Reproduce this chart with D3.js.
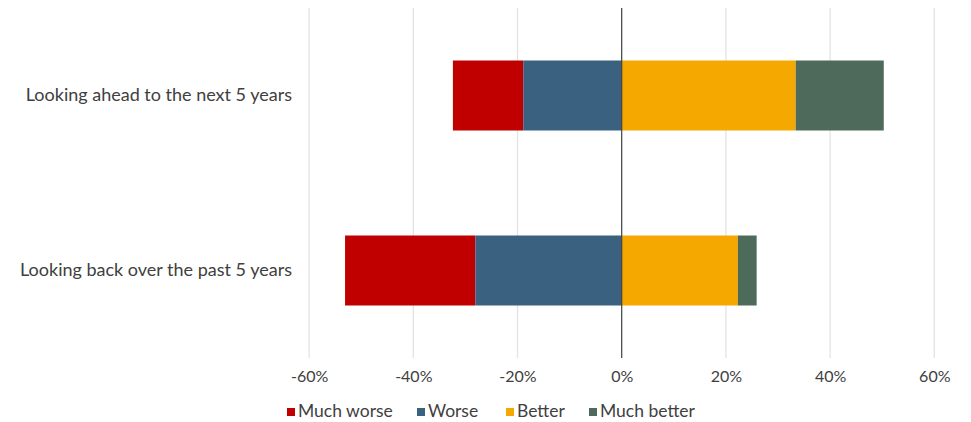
<!DOCTYPE html>
<html>
<head>
<meta charset="utf-8">
<script src="https://cdn.jsdelivr.net/npm/d3@7"></script>
<style>
  html, body { margin: 0; padding: 0; background: #fff; }
  svg { display: block; font-family: Lato, "Open Sans", sans-serif; }
</style>
</head>
<body>
<svg id="chart" width="971" height="422"></svg>
<script>
const categories = ["Looking ahead to the next 5 years", "Looking back over the past 5 years"];
const seriesNames = ["Much worse", "Worse", "Better", "Much better"];
const muchWorse = [13.5, 25.0];
const worse = [18.9, 28.1];
const better = [33.4, 22.3];
const muchBetter = [16.9, 3.6];
const tickValues = [-60, -40, -20, 0, 20, 40, 60];
const colors = ["#C00000", "#3A6180", "#F5A800", "#4D6A5A"];

const svg = d3.select("#chart");
const x = d3.scaleLinear().domain([-60, 60]).range([309.1, 934.3]);
const y = d3.scaleBand().domain(categories).range([8, 358]).paddingInner(0.6).paddingOuter(0.3);

// gridlines
svg.append("g").selectAll("line").data(tickValues.filter(d => d !== 0)).join("line")
  .attr("x1", d => x(d)).attr("x2", d => x(d))
  .attr("y1", 8).attr("y2", 358)
  .attr("stroke", "#e3e3e3").attr("stroke-width", 1.3);

// stacked bars
const rows = categories.map((c, i) => ({ cat: c, vals: [muchWorse[i], worse[i], better[i], muchBetter[i]] }));
const segs = [];
rows.forEach(r => {
  const mw = r.vals[0], w = r.vals[1], b = r.vals[2], mb = r.vals[3];
  segs.push({ cat: r.cat, s: 0, x0: -(w + mw), x1: -w });
  segs.push({ cat: r.cat, s: 1, x0: -w, x1: 0 });
  segs.push({ cat: r.cat, s: 2, x0: 0, x1: b });
  segs.push({ cat: r.cat, s: 3, x0: b, x1: b + mb });
});
svg.append("g").selectAll("rect").data(segs).join("rect")
  .attr("x", d => x(d.x0)).attr("width", d => x(d.x1) - x(d.x0))
  .attr("y", d => y(d.cat)).attr("height", y.bandwidth())
  .attr("fill", d => colors[d.s]);

// zero line
svg.append("line").attr("x1", x(0)).attr("x2", x(0)).attr("y1", 8).attr("y2", 358)
  .attr("stroke", "#404040").attr("stroke-width", 1.2);

// x axis labels
const xAxis = d3.axisBottom(x).tickValues(tickValues).tickFormat(d => d + "%").tickSize(0).tickPadding(0);
const ax = svg.append("g").attr("transform", "translate(0,371)").call(xAxis);
ax.select(".domain").remove();
ax.selectAll("text").attr("font-size", 16).attr("fill", "#404040").attr("font-family", "Lato, sans-serif");

// category labels
const yAxis = d3.axisLeft(y).tickSize(0).tickPadding(0);
const ay = svg.append("g").attr("transform", "translate(292,0)").call(yAxis);
ay.select(".domain").remove();
ay.selectAll("text").attr("font-size", 18).attr("fill", "#404040").attr("font-family", "Lato, sans-serif");

// legend
const legendX = [287, 417, 506, 589];
const lg = svg.append("g").selectAll("g").data(seriesNames).join("g")
  .attr("transform", (d, i) => `translate(${legendX[i]},408)`);
lg.append("rect").attr("width", 8).attr("height", 8).attr("y", 0).attr("fill", (d, i) => colors[i]);
lg.append("text").attr("x", 11).attr("y", 8.5).attr("font-size", 17.5)
  .attr("fill", "#404040").text(d => d);
</script>
</body>
</html>
